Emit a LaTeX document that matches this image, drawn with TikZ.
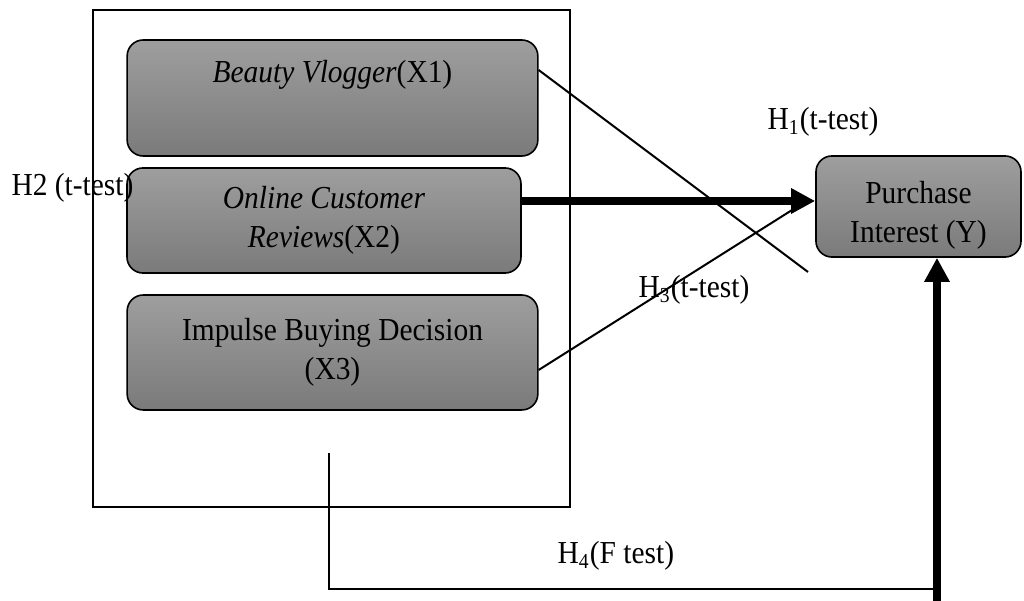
\documentclass[tikz,border=0pt]{standalone}
\usepackage{fontspec}
\setmainfont[FakeStretch=0.92]{Liberation Serif}
\usetikzlibrary{arrows.meta}
\tikzset{
  varbox/.style={draw, line width=0.6pt, rounded corners=6pt, top color=black!38, bottom color=black!52, align=center, inner sep=0pt},
  hyplab/.style={inner sep=0pt, font=\fontsize{12}{14}\selectfont},
  thin line/.style={line width=0.75pt},
  thick arrow/.style={line width=3pt, -{Triangle[length=9pt,width=9pt]}}
}

\begin{document}
\begin{tikzpicture}[x=0.375pt, y=-0.375pt, font=\fontsize{12}{14.5}\selectfont]
        \useasboundingbox (0,0) rectangle (1024,601);
        \draw[line width=0.75pt] (93,10) rectangle (570,507);
        \node[varbox, minimum width=154pt, minimum height=43.5pt] (XOne) at (332.5,98) {};
        \node (XOneText) at (332.5,75) {\textit{Beauty Vlogger}(X1)};
        \node[varbox, minimum width=147.75pt, minimum height=39.4pt] (XTwo) at (324,220.5) {\textit{Online Customer}\\\textit{Reviews}(X2)};
        \node[varbox, minimum width=154pt, minimum height=43.1pt] (XThree) at (332.5,352.5) {Impulse Buying Decision\\(X3)};
        \node[varbox, minimum width=76.9pt, minimum height=37.9pt] (Y) at (918.5,206.5) {};
        \node[align=center] (YText) at (918.5,215) {Purchase\\Interest (Y)};
        \coordinate (HOneEnd) at (808,272);
        \coordinate (HThreeEnd) at (800,205);
        \coordinate (FStart) at (329,453);
        \coordinate (FCorner) at (937,589);
        \draw[thin line] (XOne.east |- 0,70) -- (HOneEnd);
        \draw[thin line] (XThree.east |- 0,370) -- (HThreeEnd);
        \draw[thick arrow] (XTwo.east |- 0,201) -- (Y.west |- 0,201);
        \draw[thin line] (FStart) |- (FCorner);
        \draw[thick arrow] (937,601) -- (Y.south -| FCorner);
        \node[hyplab, anchor=west] (HOne) at (767,122) {H\textsubscript{1}(t-test)};
        \node[hyplab, anchor=west] (HTwo) at (11,188) {H2 (t-test)};
        \node[hyplab, anchor=west] (HThree) at (638,290) {H\textsubscript{3}(t-test)};
        \node[hyplab, anchor=west] (HFour) at (557,556) {H\textsubscript{4}(F test)};
      \end{tikzpicture}
\end{document}
